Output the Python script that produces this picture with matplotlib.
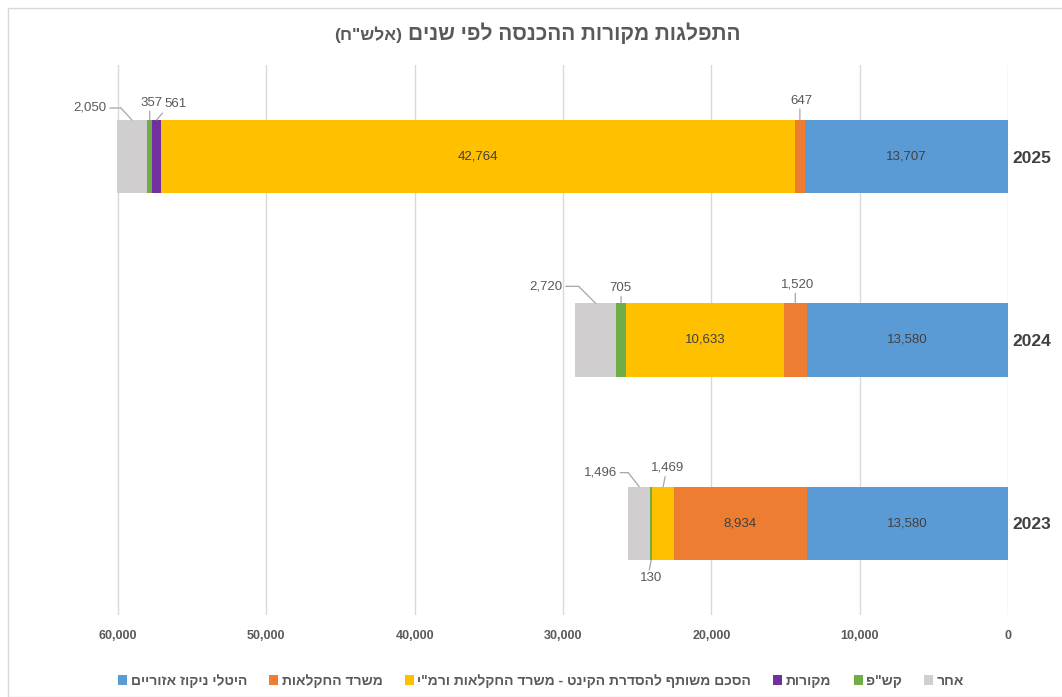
import matplotlib.pyplot as plt
import numpy as np
from matplotlib.patches import Rectangle
from matplotlib.transforms import offset_copy

plt.rcParams['font.family'] = ['Liberation Sans', 'DejaVu Sans']


def heb(s):
    # matplotlib has no bidi support: flip the string for display
    out = s[::-1]
    return out.translate(str.maketrans('()', ')('))


years = ['2023', '2024', '2025']
series = ['היטלי ניקוז אזוריים', 'משרד החקלאות',
          'הסכם משותף להסדרת הקינט - משרד החקלאות ורמ"י',
          'מקורות', 'קש"פ', 'אחר']
colors = ['#5B9BD5', '#ED7D31', '#FFC000', '#7030A0', '#70AD47', '#D0CECE']

# values per series, ordered like years (2023, 2024, 2025)
drainage = [13580, 13580, 13707]
agri_ministry = [8934, 1520, 647]
joint_agreement = [1469, 10633, 42764]
mekorot = [0, 0, 561]
kashap = [130, 705, 357]
other = [1496, 2720, 2050]
values = [drainage, agri_ministry, joint_agreement, mekorot, kashap, other]

x_ticks = [0, 10000, 20000, 30000, 40000, 50000, 60000]

# leader-line labels: (series, year) -> line points (px from anchor), text pos, alignment
outside = {
    (5, 2): ([(0, 0), (-11, 12), (-22, 12)], (-25, 12), 'right'),
    (4, 2): ([(0, 0), (0, 9)], (2, 17), 'center'),
    (3, 2): ([(0, 0), (6, 7)], (19, 16), 'center'),
    (1, 2): ([(0, 0), (0, 11)], (2, 19), 'center'),
    (5, 1): ([(0, 0), (-17, 17), (-30, 17)], (-33, 17), 'right'),
    (4, 1): ([(0, 0), (0, 7)], (-1, 15), 'center'),
    (1, 1): ([(0, 0), (0, 10)], (2, 19), 'center'),
    (5, 0): ([(0, 0), (-11, 14), (-19, 14)], (-22, 14), 'right'),
    (2, 0): ([(0, 0), (2, 10)], (4, 19), 'center'),
    (4, 0): ([(0, 0), (-2, -10)], (0, -18), 'center'),
}

fig = plt.figure(figsize=(10.62, 6.97), dpi=100)
ax = fig.add_axes([115 / 1062, 1 - 615 / 697, 893 / 1062, 550 / 697])

fig.patches.append(Rectangle((8 / 1062, 0), 1.0, 1 - 8 / 697, transform=fig.transFigure,
                             fill=False, edgecolor='#d9d9d9', linewidth=1))

y = np.arange(len(years))
left = np.zeros(len(years))
bar_h = 0.4
for si, (name, vals, col) in enumerate(zip(series, values, colors)):
    vals = np.array(vals, dtype=float)
    ax.barh(y, vals, left=left, height=bar_h, color=col, label=heb(name), zorder=3)
    for yi, v in enumerate(vals):
        if v <= 0:
            continue
        mid = left[yi] + v / 2
        txt = f'{int(v):,}'
        if (si, yi) in outside:
            pts, (tx, ty), ha = outside[(si, yi)]
            edge = yi + bar_h / 2 if ty > 0 else yi - bar_h / 2
            for p0, p1 in zip(pts[:-1], pts[1:]):
                ax.annotate('', xy=(mid, edge),
                            xycoords=offset_copy(ax.transData, fig=fig, x=p0[0], y=p0[1], units='dots'),
                            xytext=(p1[0] - p0[0], p1[1] - p0[1]), textcoords='offset pixels',
                            arrowprops=dict(arrowstyle='-', color='#a6a6a6', lw=0.9,
                                            shrinkA=0, shrinkB=0))
            ax.annotate(txt, xy=(mid, edge), xytext=(tx, ty), textcoords='offset pixels',
                        ha=ha, va='center', fontsize=9.5, color='#595959')
        else:
            ax.text(mid, yi, txt, ha='center', va='center', fontsize=9.5, color='#404040', zorder=4)
    left += vals

ax.set_xlim(60200, 0)
ax.set_ylim(-0.5, 2.5)
ax.set_xticks(x_ticks)
ax.set_xticklabels([f'{t:,}' for t in x_ticks], fontsize=9, fontweight='bold', color='#595959')
ax.set_yticks(y)
ax.set_yticklabels(years, fontsize=12.5, fontweight='bold', color='#404040')
ax.yaxis.tick_right()
ax.tick_params(axis='both', length=0)
ax.tick_params(axis='x', pad=11)
ax.tick_params(axis='y', pad=3)
ax.grid(axis='x', color='#d9d9d9', linewidth=1, zorder=0)
ax.set_axisbelow(True)
for sp in ax.spines.values():
    sp.set_visible(False)

title = fig.text(740 / 1062, 1 - 33 / 697, heb('התפלגות מקורות ההכנסה לפי שנים'), ha='right',
                 va='center', fontsize=15, fontweight='bold', color='#595959')
ax.annotate(heb('(אלש"ח)'), xy=(0, 0.5), xycoords=title, xytext=(-4, -1),
            textcoords='offset points', ha='right', va='center', fontsize=12.5,
            fontweight='bold', color='#595959')

fig.legend(loc='center', bbox_to_anchor=(541 / 1062, 1 - 681 / 697), ncol=6, frameon=False,
           handlelength=0.65, handleheight=0.65, handletextpad=0.25, columnspacing=1.6,
           prop={'size': 10, 'weight': 'bold'}, labelcolor='#595959')

fig.savefig('out.png', dpi=100)
